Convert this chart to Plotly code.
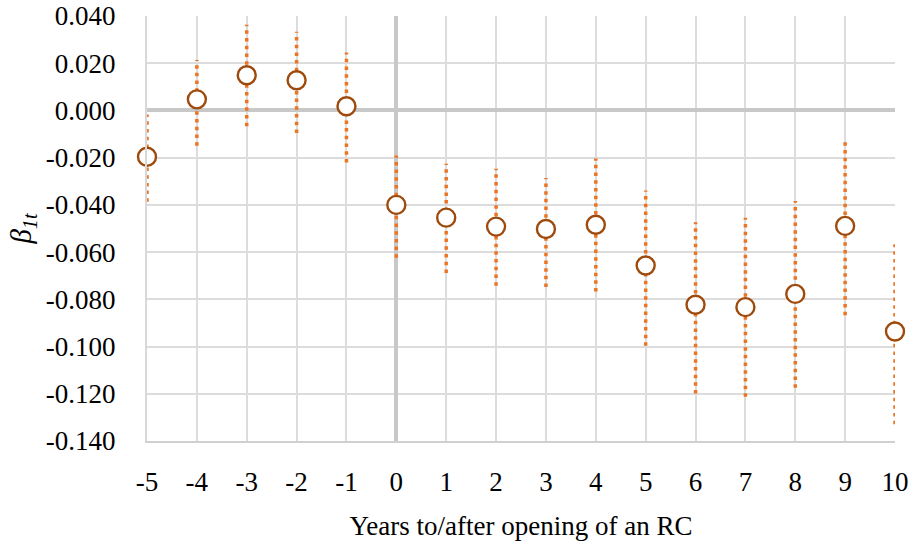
import plotly.graph_objects as go

years = [-5, -4, -3, -2, -1, 0, 1, 2, 3, 4, 5, 6, 7, 8, 9, 10]
beta = [-0.0196, 0.0047, 0.0149, 0.0128, 0.0018, -0.0400, -0.0454, -0.0492, -0.0502, -0.0484,
        -0.0657, -0.0823, -0.0833, -0.0777, -0.0489, -0.0936]
upper = [-0.0017, 0.0214, 0.0363, 0.0333, 0.0245, -0.0191, -0.0226, -0.0247, -0.0286, -0.0204,
         -0.0339, -0.0474, -0.0454, -0.0384, -0.0132, -0.0567]
lower = [-0.0387, -0.0149, -0.0067, -0.0095, -0.0220, -0.0624, -0.0688, -0.0742, -0.0748, -0.0767,
         -0.0997, -0.1199, -0.1213, -0.1174, -0.0867, -0.1329]

y_ticks = [0.04, 0.02, 0.0, -0.02, -0.04, -0.06, -0.08, -0.10, -0.12, -0.14]
y_labels = ["0.040", "0.020", "0.000", "-0.020", "-0.040", "-0.060", "-0.080", "-0.100", "-0.120", "-0.140"]
x_labels = ["-5", "-4", "-3", "-2", "-1", "0", "1", "2", "3", "4", "5", "6", "7", "8", "9", "10"]

FONT = "Liberation Serif"

# error bar segments
seg_x, seg_y = [], []
for x, lo, hi in zip(years, lower, upper):
    seg_x += [x, x, None]
    seg_y += [lo, hi, None]

fig = go.Figure()
fig.add_trace(go.Scatter(
    x=seg_x, y=seg_y, mode="lines",
    line=dict(color="#EC7425", width=3.5, dash="3.5px,4.2px"),
    hoverinfo="skip", showlegend=False, cliponaxis=False,
))
fig.add_trace(go.Scatter(
    x=years, y=beta, mode="markers",
    marker=dict(symbol="circle", size=18, color="white",
                line=dict(color="#9E4A0C", width=2.4)),
    showlegend=False, cliponaxis=False,
))

fig.update_layout(
    width=910, height=547,
    margin=dict(l=147, r=15, t=16, b=106),
    paper_bgcolor="white", plot_bgcolor="white",
    font=dict(family=FONT, size=27, color="#000000"),
    xaxis=dict(
        range=[-5, 10], tickvals=years, ticktext=x_labels,
        showgrid=True, gridcolor="#DCDCDC", gridwidth=2,
        zeroline=True, zerolinecolor="#C8C8C8", zerolinewidth=4,
        showline=True, linecolor="#D0D0D0", linewidth=2, mirror=False,
        ticks="", ticklabelstandoff=16, automargin=False, ticklabeloverflow="allow",
        title=dict(text="Years to/after opening of an RC", font=dict(size=27), standoff=20),
    ),
    yaxis=dict(
        range=[-0.14, 0.04], tickvals=y_ticks, ticktext=y_labels,
        showgrid=True, gridcolor="#DCDCDC", gridwidth=2,
        zeroline=True, zerolinecolor="#C8C8C8", zerolinewidth=4,
        showline=True, linecolor="#D8D8D8", linewidth=2,
        ticks="", ticklabelstandoff=24, automargin=False, ticklabeloverflow="allow",
        title=dict(text="<i>β</i><sub><i>1t</i></sub>", font=dict(size=29), standoff=6),
    ),
)

fig.write_html("out.html", config={"displayModeBar": False},
               post_script="document.body.style.margin='0';")
